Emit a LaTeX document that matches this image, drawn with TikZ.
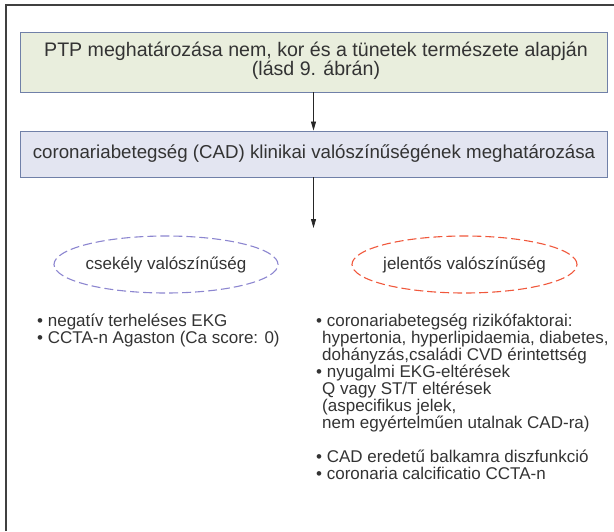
\documentclass[tikz,border=0pt]{standalone}
\usepackage{fontspec}
\setmainfont{Liberation Sans}
\usetikzlibrary{arrows.meta,shapes.geometric}
\definecolor{txt}{HTML}{333333}
\definecolor{boxline}{HTML}{7080A8}
\definecolor{greenfill}{HTML}{E9EEDD}
\definecolor{bluefill}{HTML}{E3E5F1}
\definecolor{lowcol}{HTML}{8C86D0}
\definecolor{highcol}{HTML}{F0583C}
\tikzset{
  mainbox/.style={draw=boxline, line width=0.9pt, inner sep=0pt},
  lbl/.style={text=txt, align=center},
  probell/.style={ellipse, dashed, dash pattern=on 9pt off 4pt, line width=1.1pt, minimum width=#1, minimum height=57pt, inner sep=0pt},
  flow/.style={-{Triangle[length=9pt,width=5pt]}, line width=0.8pt, draw=black!85},
  listtxt/.style={font=\fontsize{17}{17}\selectfont, text=txt, align=left, anchor=north west, inner sep=0pt}
}
\begin{document}
\begin{tikzpicture}[x=1pt,y=-1pt]
\useasboundingbox (0,0) rectangle (614,531);
\draw[line width=1.3pt, draw=black!75] (6,531) -- (6,5) -- (614,5);
\node[mainbox, fill=greenfill, minimum width=587pt, minimum height=60pt] (b1) at (313.5,62) {};
\node[lbl, font=\fontsize{19.6}{18}\selectfont] (t1) at (316,61) {PTP meghatározása nem, kor és a tünetek természete alapján\\(lásd 9. ábrán)};
\node[mainbox, fill=bluefill, minimum width=587pt, minimum height=46pt] (b2) at (313.5,154) {};
\node[lbl, font=\fontsize{18.7}{18}\selectfont] (t2) at (314,154) {coronariabetegség (CAD) klinikai valószínűségének meghatározása};
\draw[flow] (b1.south) -- (b2.north);
\coordinate (arrend) at (313.5,228);
\draw[flow] (b2.south) -- (arrend);
\node[probell=224pt, draw=lowcol] (low) at (166,264.5) {};
\node[lbl, font=\fontsize{17}{17}\selectfont] at (low.center) {csekély valószínűség};
\node[probell=225pt, draw=highcol] (high) at (464.5,264.5) {};
\node[lbl, font=\fontsize{17}{17}\selectfont] at (high.center) {jelentős valószínűség};
\node[listtxt] (llist) at (37,314) {• negatív terheléses EKG\\• CCTA-n Agaston (Ca score: 0)};
\node[listtxt] (rlist) at (316,314) {• coronariabetegség rizikófaktorai:\\
\hspace*{6pt}hypertonia, hyperlipidaemia, diabetes,\\
\hspace*{6pt}dohányzás,családi CVD érintettség\\
• nyugalmi EKG-eltérések\\
\hspace*{6pt}Q vagy ST/T eltérések\\
\hspace*{6pt}(aspecifikus jelek,\\
\hspace*{6pt}nem egyértelműen utalnak CAD-ra)\\[17pt]
• CAD eredetű balkamra diszfunkció\\
• coronaria calcificatio CCTA-n};
\end{tikzpicture}
\end{document}
